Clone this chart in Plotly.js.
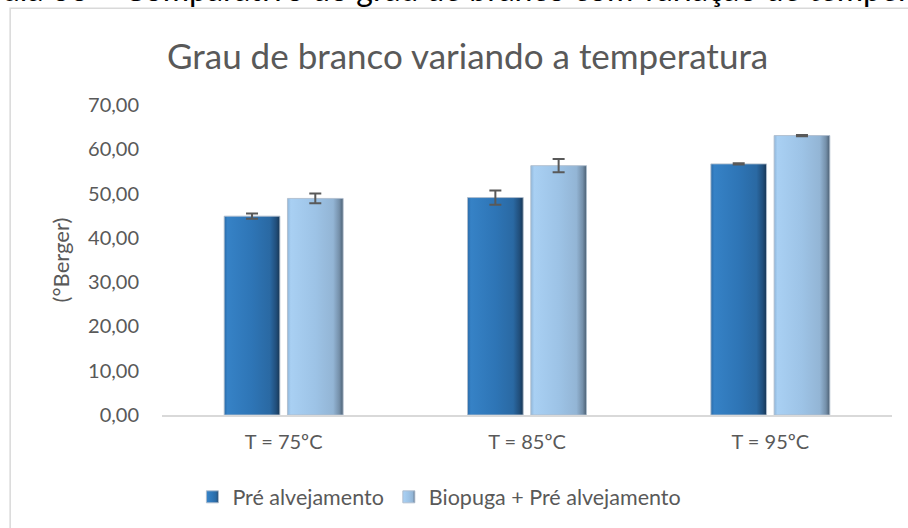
<!DOCTYPE html>
<html>
<head>
<meta charset="utf-8">
<script src="https://cdn.plot.ly/plotly-3.0.1.min.js"></script>
<style>
html,body{margin:0;padding:0;background:#fff;}
#chart{width:908px;height:528px;}
</style>
</head>
<body>
<div id="chart"></div>
<script>
// ---- data ----
const categories = ["T = 75ºC", "T = 85ºC", "T = 95ºC"];
const preAlvejamento = [44.9, 49.1, 56.7];
const preAlvejamentoErr = [0.6, 1.6, 0.15];
const biopugaPre = [48.9, 56.3, 63.1];
const biopugaPreErr = [1.1, 1.5, 0.15];
const seriesNames = ["Pré alvejamento", "Biopuga + Pré alvejamento"];
const yTicks = [0, 10, 20, 30, 40, 50, 60, 70];

const FONT = "Lato, 'Open Sans', sans-serif";
const GREY = "#595959";

const traces = [
  {
    type: "bar", name: seriesNames[0], x: categories, y: preAlvejamento,
    marker: {color: "#2e75b6", line: {color: "rgba(175,190,205,0.9)", width: 1}},
    error_y: {type: "data", array: preAlvejamentoErr, visible: true, color: GREY, thickness: 2, width: 6},
    hoverinfo: "none"
  },
  {
    type: "bar", name: seriesNames[1], x: categories, y: biopugaPre,
    marker: {color: "#9dc3e6", line: {color: "rgba(175,190,205,0.9)", width: 1}},
    error_y: {type: "data", array: biopugaPreErr, visible: true, color: GREY, thickness: 2, width: 6},
    hoverinfo: "none"
  }
];

const layout = {
  width: 908, height: 528,
  margin: {l: 162, r: 16, t: 105, b: 112},
  paper_bgcolor: "#ffffff", plot_bgcolor: "#ffffff",
  separators: ",.",
  barmode: "group", bargap: 0.48, bargroupgap: 0.12,
  showlegend: true,
  font: {family: FONT, color: GREY, size: 20},
  title: {
    text: "Grau de branco variando a temperatura",
    font: {family: FONT, size: 35, color: GREY},
    x: 0.515, xref: "container", xanchor: "center",
    y: 0.892, yref: "container", yanchor: "middle"
  },
  xaxis: {
    type: "category",
    showgrid: false, zeroline: false,
    showline: true, linecolor: "#d9d9d9", linewidth: 2,
    ticks: "", tickfont: {family: FONT, size: 20, color: GREY},
    ticklabelstandoff: 8
  },
  yaxis: {
    range: [0, 70], tickvals: yTicks, tickformat: ".2f",
    showgrid: false, zeroline: false, showline: false,
    ticks: "", tickfont: {family: FONT, size: 20, color: GREY},
    ticklabelstandoff: 22,
    title: {text: "(°Berger)", font: {family: FONT, size: 22, color: GREY}, standoff: 12}
  },
  legend: {
    orientation: "h", x: 0.38, xanchor: "center", y: -0.26, yanchor: "middle",
    font: {family: FONT, size: 21.5, color: GREY},
    itemwidth: 30, tracegroupgap: 0, traceorder: "normal"
  },
  shapes: [
    {type: "rect", xref: "paper", yref: "paper", x0: -0.208, x1: 1.2, y0: -0.5, y1: 1.312,
     line: {color: "#d9d9d9", width: 1.5}, fillcolor: "rgba(0,0,0,0)", layer: "below"}
  ],
  annotations: [
    {text: "ula 66 – Comparativo do grau de branco com variação de temper",
     xref: "paper", yref: "paper", x: -0.222, xanchor: "left", y: 1.305, yanchor: "bottom",
     showarrow: false, font: {family: FONT, size: 32, color: "#000000"}}
  ]
};

Plotly.newPlot("chart", traces, layout, {staticPlot: true}).then(function(gd){
  const svg = gd.querySelector("svg.main-svg");
  const ns = "http://www.w3.org/2000/svg";
  let defs = svg.querySelector("defs");
  if (!defs) { defs = document.createElementNS(ns, "defs"); svg.insertBefore(defs, svg.firstChild); }
  function grad(id, stops){
    const g = document.createElementNS(ns, "linearGradient");
    g.setAttribute("id", id); g.setAttribute("x1","0"); g.setAttribute("x2","1"); g.setAttribute("y1","0"); g.setAttribute("y2","0");
    stops.forEach(function(s){
      const st = document.createElementNS(ns, "stop");
      st.setAttribute("offset", s[0]); st.setAttribute("stop-color", s[1]);
      g.appendChild(st);
    });
    defs.appendChild(g);
  }
  grad("gDark", [["0","#2a6aa8"],["0.06","#3682c6"],["0.5","#2e75b6"],["0.82","#2a69a3"],["0.93","#214f7c"],["1","#173654"]]);
  grad("gLight", [["0","#8fb6da"],["0.06","#a9d0f3"],["0.5","#9dc3e6"],["0.82","#93b5d5"],["0.93","#7590aa"],["1","#4b5f73"]]);
  const ids = ["gDark","gLight"];
  gd.querySelectorAll(".barlayer .trace").forEach(function(tr, i){
    tr.querySelectorAll(".point path").forEach(function(p){ p.style.fill = "url(#" + ids[i] + ")"; });
  });
  gd.querySelectorAll(".legend .traces").forEach(function(tr, i){
    tr.querySelectorAll(".legendpoints path").forEach(function(p){ p.style.fill = "url(#" + ids[i] + ")"; });
  });
});
</script>
</body>
</html>
